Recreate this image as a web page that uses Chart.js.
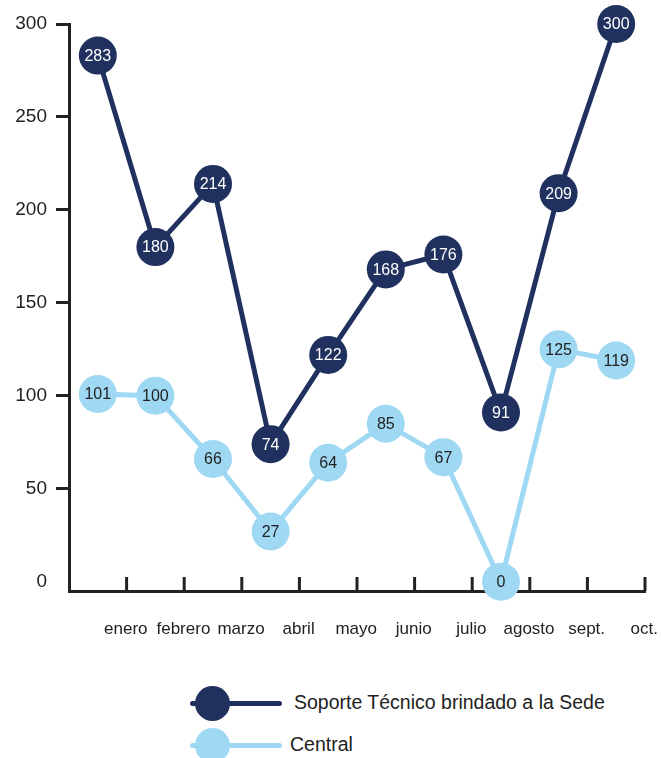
<!DOCTYPE html>
<html>
<head>
<meta charset="utf-8">
<script src="https://cdn.jsdelivr.net/npm/chart.js@4"></script>
<style>
  body { margin: 0; background: #fff; font-family: "Liberation Sans", Arial, sans-serif; overflow: hidden; }
  #wrap { position: relative; width: 661px; height: 758px; overflow: hidden; }
  #chart { position: absolute; left: 0; top: 0; }
  .leg { position: absolute; left: 190px; height: 40px; font-size: 19.5px; color: #222; }
  .leg .ln { position: absolute; left: 0; top: 18px; width: 92px; height: 5px; border-radius: 3px; }
  .leg .dot { position: absolute; left: 5px; top: 3px; width: 35px; height: 35px; border-radius: 50%; }
  .leg span { position: absolute; top: 8px; white-space: nowrap; }
</style>
</head>
<body>
<div id="wrap">
  <canvas id="chart" width="664" height="660"></canvas>
  <div class="leg" style="top:683px">
    <div class="ln" style="background:#21315f"></div><div class="dot" style="background:#21315f"></div>
    <span style="left:104px">Soporte Técnico brindado a la Sede</span>
  </div>
  <div class="leg" style="top:725px">
    <div class="ln" style="background:#9fd8f3"></div><div class="dot" style="background:#9fd8f3"></div>
    <span style="left:100px">Central</span>
  </div>
</div>
<script>
// Data
const months = ['enero', 'febrero', 'marzo', 'abril', 'mayo', 'junio', 'julio', 'agosto', 'sept.', 'oct.'];
const soporteSede = [283, 180, 214, 74, 122, 168, 176, 91, 209, 300];
const central = [101, 100, 66, 27, 64, 85, 67, 0, 125, 119];
const yTicks = [0, 50, 100, 150, 200, 250, 300];

const navy = '#21315f';
const lightBlue = '#9fd8f3';
const axisColor = '#222';

// tick marks on the x axis point up into the plot, between months
const xTickMarks = {
    id: 'xTickMarks',
    afterDraw(chart) {
        const x = chart.scales.x;
        const ctx = chart.ctx;
        const band = x.getPixelForValue(1) - x.getPixelForValue(0);
        ctx.save();
        ctx.strokeStyle = axisColor;
        ctx.lineWidth = 3;
        for (let i = 0; i < months.length; i++) {
            const px = x.getPixelForValue(i) + band / 2;
            ctx.beginPath();
            ctx.moveTo(px, x.top);
            ctx.lineTo(px, x.top - 14);
            ctx.stroke();
        }
        ctx.restore();
    }
};

// values written inside each point
const pointValues = {
    id: 'pointValues',
    afterDatasetsDraw(chart) {
        const ctx = chart.ctx;
        ctx.save();
        ctx.font = '16px "Liberation Sans", Arial, sans-serif';
        ctx.textAlign = 'center';
        ctx.textBaseline = 'middle';
        chart.data.datasets.forEach((ds, i) => {
            ctx.fillStyle = i === 0 ? '#fff' : '#222';
            chart.getDatasetMeta(i).data.forEach((pt, j) => {
                ctx.fillText(ds.data[j], pt.x, pt.y + 1);
            });
        });
        ctx.restore();
    }
};

new Chart(document.getElementById('chart'), {
    type: 'line',
    data: {
        labels: months,
        datasets: [{
            label: 'Soporte Técnico brindado a la Sede',
            data: soporteSede,
            borderColor: navy,
            backgroundColor: navy,
            pointBackgroundColor: navy,
            borderWidth: 5,
            pointRadius: 19,
            pointHoverRadius: 19,
            pointBorderWidth: 0,
            tension: 0,
            clip: false
        }, {
            label: 'Central',
            data: central,
            borderColor: lightBlue,
            backgroundColor: lightBlue,
            pointBackgroundColor: lightBlue,
            borderWidth: 5,
            pointRadius: 19,
            pointHoverRadius: 19,
            pointBorderWidth: 0,
            tension: 0,
            clip: false
        }]
    },
    options: {
        responsive: false,
        animation: false,
        layout: { padding: { top: 24, right: 17, left: 0, bottom: 0 } },
        plugins: {
            legend: { display: false },
            tooltip: { enabled: false }
        },
        scales: {
            x: {
                offset: true,
                grid: { display: false },
                border: { color: axisColor, width: 3 },
                ticks: {
                    color: '#222',
                    font: { size: 17, family: '"Liberation Sans", Arial, sans-serif' },
                    padding: 20,
                    labelOffset: 28,
                    maxRotation: 0,
                    autoSkip: false
                },
                afterFit(scale) {
                    scale.height = 69;
                    scale.paddingLeft = 0;
                    scale.paddingRight = 0;
                }
            },
            y: {
                min: -5,
                max: 300,
                afterBuildTicks(scale) { scale.ticks = yTicks.map(v => ({ value: v })); },
                grid: {
                    drawOnChartArea: false,
                    tickLength: 13,
                    tickWidth: 3,
                    tickColor: ctx => ctx.tick && ctx.tick.value === 0 ? 'rgba(0,0,0,0)' : axisColor
                },
                border: { color: axisColor, width: 3 },
                ticks: {
                    color: '#222',
                    font: { size: 19, family: '"Liberation Sans", Arial, sans-serif' },
                    padding: 9
                },
                afterFit(scale) { scale.width = 69; }
            }
        }
    },
    plugins: [xTickMarks, pointValues]
});
</script>
</body>
</html>
